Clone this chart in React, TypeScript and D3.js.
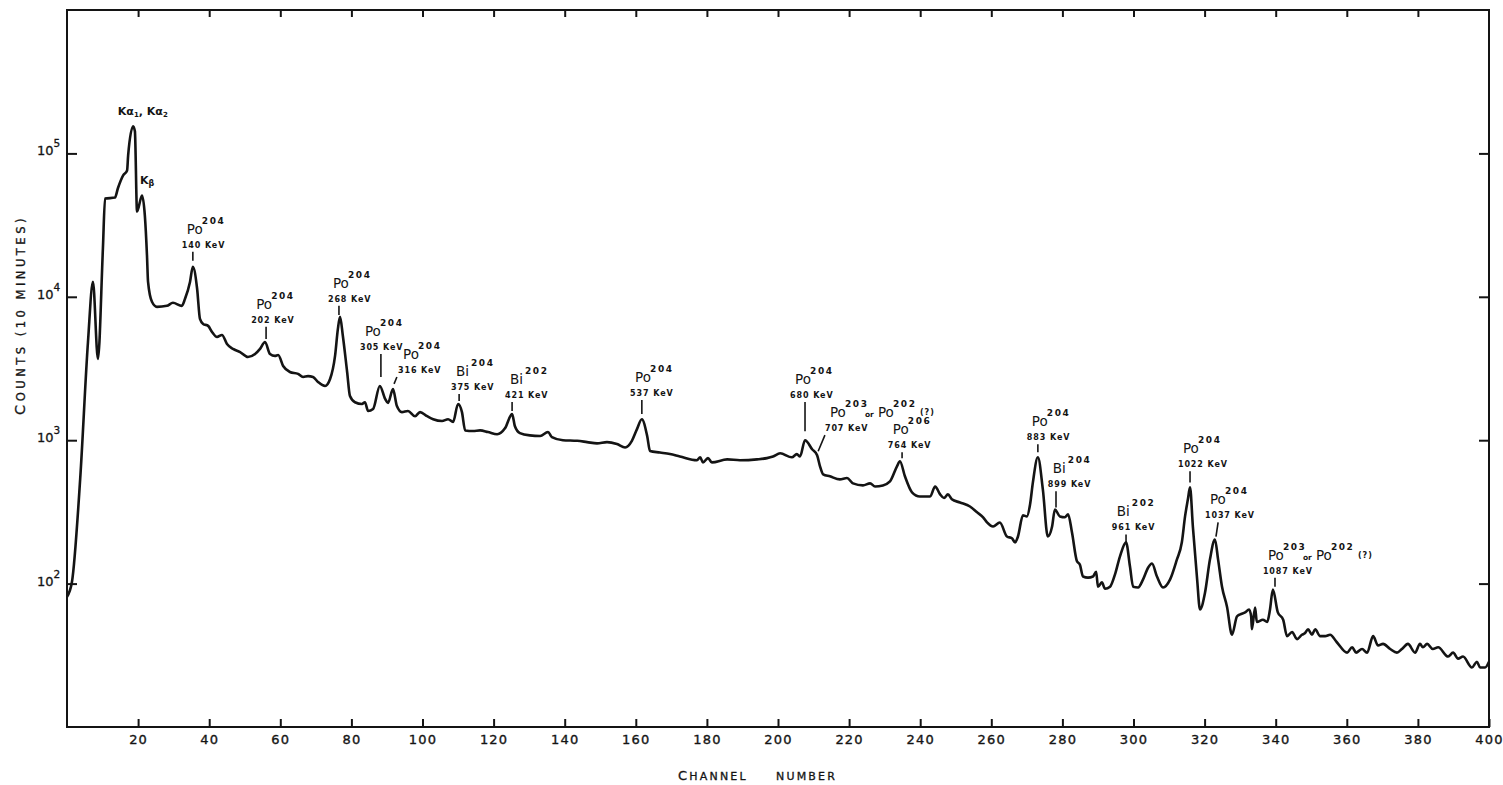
import React, { useRef, useEffect } from 'react';
import * as d3 from 'd3';

// gamma spectrum, [channel, counts per 10 minutes]
const spectrum: [number, number][] = [
  [0, 81], [1.4, 103], [3.7, 533], [5.9, 4840], [7.3, 12700], [8.7, 3680], [10.1, 21700],
  [10.7, 48400], [13.5, 49200], [14.3, 56900], [15.8, 70200], [16.9, 76000], [17.2, 96800],
  [18.6, 154500], [19.1, 142600], [19.7, 39300], [21.1, 50800], [21.9, 36800], [22.5, 19400],
  [22.8, 12700], [23.9, 9230], [25.3, 8510], [28.1, 8650], [29.8, 9080], [32.3, 8650],
  [33.2, 9680], [34.6, 12700], [35.4, 16200], [36.6, 11380], [37.4, 7020], [38.3, 6470],
  [39.7, 6270], [40.8, 5690], [42.2, 5250], [43.6, 5420], [45.0, 4690], [46.7, 4330],
  [48.7, 4120], [50.9, 3800], [52.9, 3990], [54.3, 4330], [55.7, 4840], [57.1, 3990],
  [58.5, 3870], [59.4, 3930], [60.8, 3290], [62.7, 2990], [65.0, 2900], [66.4, 2760],
  [67.8, 2800], [69.2, 2760], [70.6, 2550], [72.6, 2390], [74.0, 2670], [75.4, 3870],
  [76.2, 5970], [76.8, 7250], [77.6, 5330], [78.8, 2990], [79.6, 2030], [81.0, 1840],
  [83.0, 1790], [83.8, 1840], [84.7, 1600], [86.1, 1650], [88.0, 2390], [89.5, 1940],
  [90.3, 1820], [91.7, 2270], [92.8, 1730], [94.2, 1570], [95.9, 1600], [97.9, 1470],
  [99.3, 1570], [101.3, 1470], [103.0, 1400], [105.5, 1360], [107.2, 1400], [108.6, 1340],
  [110.0, 1790], [111.1, 1570], [112.0, 1170], [114.2, 1160], [116.2, 1170], [118.4, 1140],
  [121.0, 1100], [123.2, 1210], [125.2, 1520], [126.0, 1250], [127.4, 1120], [130.2, 1080],
  [133.1, 1070], [135.3, 1140], [136.4, 1050], [139.5, 1000], [143.5, 990], [146.3, 970],
  [149.1, 950], [151.9, 970], [154.7, 940], [157.0, 890], [158.9, 990], [160.3, 1190],
  [161.7, 1400], [163.2, 1070], [164.0, 840], [166.8, 820], [169.6, 800], [172.4, 770],
  [177.2, 725], [178.1, 760], [178.9, 700], [180.3, 750], [181.4, 700], [185.7, 735],
  [189.3, 725], [194.1, 735], [196.9, 750], [198.6, 770], [200.6, 810], [203.9, 760],
  [205.3, 800], [206.2, 770], [207.6, 1000], [209.6, 865], [211.0, 785], [211.8, 660],
  [212.7, 578], [214.6, 560], [217.4, 533], [219.4, 545], [221.1, 500], [223.9, 484],
  [225.9, 500], [227.3, 476], [229.5, 484], [231.5, 516], [233.5, 660], [234.3, 713],
  [235.7, 560], [237.7, 433], [239.9, 405], [242.8, 405], [244.2, 476], [245.6, 419],
  [246.7, 395], [247.8, 419], [248.9, 387], [251.2, 368], [254.0, 345], [256.0, 314],
  [257.7, 290], [258.8, 267], [260.5, 250], [262.4, 267], [264.4, 213], [265.8, 207],
  [266.7, 194], [267.5, 213], [268.9, 299], [270.0, 294], [270.9, 356], [271.7, 508],
  [273.1, 760], [274.5, 454], [275.9, 213], [277.1, 250], [277.9, 329], [279.3, 294],
  [280.7, 290], [281.6, 304], [282.7, 227], [284.1, 143], [284.9, 136], [285.8, 112],
  [287.2, 110], [288.6, 112], [289.5, 121], [290.0, 95], [291.1, 102], [292.0, 92],
  [293.4, 95], [294.8, 116], [296.2, 155], [297.9, 194], [299.0, 132], [299.9, 95],
  [301.3, 94], [302.7, 107], [304.1, 129], [305.2, 138], [306.6, 112], [308.3, 94],
  [310.3, 107], [312.2, 147], [313.6, 194], [314.5, 294], [315.3, 387], [315.9, 469],
  [316.7, 250], [317.9, 107], [318.7, 66], [320.1, 86], [321.5, 147], [322.9, 203],
  [323.8, 147], [324.9, 95], [326.3, 69], [327.7, 44], [329.1, 59], [330.0, 61],
  [331.4, 63], [332.5, 66], [333.1, 59], [333.3, 48], [334.2, 68], [334.7, 54],
  [336.4, 56], [337.6, 54], [338.4, 66], [339.2, 91], [340.6, 63], [342.1, 56],
  [343.2, 43], [344.6, 46], [346.0, 41], [347.4, 44], [348.2, 45], [349.1, 48],
  [350.2, 44], [351.1, 48], [352.5, 43], [353.9, 43], [355.3, 44], [357.2, 39],
  [360.1, 33], [361.5, 36], [362.6, 33], [364.3, 35], [365.7, 33], [367.4, 43],
  [368.8, 37], [370.2, 38], [372.2, 35], [374.1, 33], [375.5, 35], [377.2, 38],
  [379.2, 33], [380.6, 38], [381.4, 36], [382.6, 38], [384.2, 35], [385.7, 36],
  [388.5, 31], [389.9, 33], [391.3, 30], [392.7, 31], [395.2, 26], [396.6, 28.5],
  [397.5, 26], [398.9, 26], [400, 28.5],
];

const xTicks = [20, 40, 60, 80, 100, 120, 140, 160, 180, 200, 220, 240, 260, 280, 300, 320, 340, 360, 380, 400];
const yDecades = [2, 3, 4, 5];

// peak labels: tick from `top` to `bottom` counts at channel `ch`, text starting at `labelCh`
type Note = {
  sym: string; mass: string; energy: string; ch: number; tipCh?: number;
  top: number; bottom: number; labelCh: number; alt?: boolean;
};
const peakNotes: Note[] = [
  { sym: 'Po', mass: '204', energy: '140 KeV', ch: 35.4, top: 20650, bottom: 17860, labelCh: 32.3 },
  { sym: 'Po', mass: '204', energy: '202 KeV', ch: 56.0, top: 6170, bottom: 5080, labelCh: 51.8 },
  { sym: 'Po', mass: '204', energy: '268 KeV', ch: 76.5, top: 8650, bottom: 7480, labelCh: 73.4 },
  { sym: 'Po', mass: '204', energy: '305 KeV', ch: 88.3, top: 3990, bottom: 2760, labelCh: 82.4 },
  { sym: 'Po', mass: '204', energy: '316 KeV', ch: 92.8, tipCh: 92.0, top: 2760, bottom: 2470, labelCh: 93.1 },
  { sym: 'Bi', mass: '204', energy: '375 KeV', ch: 110.3, top: 2100, bottom: 1875, labelCh: 108.0 },
  { sym: 'Bi', mass: '202', energy: '421 KeV', ch: 125.2, top: 1845, bottom: 1595, labelCh: 123.2 },
  { sym: 'Po', mass: '204', energy: '537 KeV', ch: 161.7, top: 1905, bottom: 1520, labelCh: 158.4 },
  { sym: 'Po', mass: '204', energy: '680 KeV', ch: 207.6, top: 1845, bottom: 1156, labelCh: 203.4 },
  { sym: 'Po', mass: '203', energy: '707 KeV', ch: 213.2, tipCh: 211.3, top: 1084, bottom: 838, labelCh: 213.2, alt: true },
  { sym: 'Po', mass: '206', energy: '764 KeV', ch: 234.9, top: 824, bottom: 748, labelCh: 230.9 },
  { sym: 'Po', mass: '204', energy: '883 KeV', ch: 273.1, top: 937, bottom: 824, labelCh: 270.0 },
  { sym: 'Bi', mass: '204', energy: '899 KeV', ch: 278.2, top: 440, bottom: 340, labelCh: 275.9 },
  { sym: 'Bi', mass: '202', energy: '961 KeV', ch: 297.9, top: 220, bottom: 194, labelCh: 293.9 },
  { sym: 'Po', mass: '204', energy: '1022 KeV', ch: 315.9, top: 607, bottom: 508, labelCh: 312.5 },
  { sym: 'Po', mass: '204', energy: '1037 KeV', ch: 323.8, tipCh: 323.2, top: 267, bottom: 213, labelCh: 320.1 },
  { sym: 'Po', mass: '203', energy: '1087 KeV', ch: 339.8, top: 110, bottom: 95, labelCh: 336.4, alt: true },
];

// X-ray labels [channel, counts] of text start
const kAlphaAt: [number, number] = [14.3, 184500];
const kBetaAt: [number, number] = [20.5, 60700];

const WIDTH = 1503;
const HEIGHT = 785;
const FONT = '"DejaVu Sans", sans-serif';
const INK = '#141414';

const App = () => {
  const svgRef = useRef<SVGSVGElement>(null);

  useEffect(() => {
    const svg = d3.select(svgRef.current);
    svg.selectAll('*').remove();

    const margin = { top: 10, right: 14, bottom: 58, left: 67 };
    const x = d3.scaleLinear().domain([0, 400]).range([margin.left, WIDTH - margin.right]);
    const y = d3.scaleLog().domain([10, 1e6]).range([HEIGHT - margin.bottom, margin.top]);
    const [xL, xR] = x.range();
    const [yB, yT] = y.range();

    // frame
    svg.append('rect')
      .attr('x', xL).attr('y', yT)
      .attr('width', xR - xL).attr('height', yB - yT)
      .attr('fill', 'none').attr('stroke', INK).attr('stroke-width', 2);

    const styleAxis = (g: any) => {
      g.select('.domain').remove();
      g.selectAll('.tick line').attr('stroke', INK).attr('stroke-width', 2);
      g.selectAll('.tick text')
        .attr('fill', INK).attr('font-family', FONT)
        .attr('font-size', 13).attr('letter-spacing', 1.2)
        .attr('stroke', INK).attr('stroke-width', 0.35);
    };

    svg.append('g')
      .attr('transform', `translate(0,${yB})`)
      .call(d3.axisBottom(x).tickValues(xTicks).tickSizeInner(-8).tickSizeOuter(0).tickPadding(8))
      .call(styleAxis);

    svg.append('g')
      .attr('transform', `translate(0,${yT})`)
      .call(d3.axisTop(x).tickValues(xTicks.slice(0, -1)).tickSizeInner(-7).tickSizeOuter(0).tickFormat(() => ''))
      .call(styleAxis);

    const decadeVals = yDecades.map(e => Math.pow(10, e));
    svg.append('g')
      .attr('transform', `translate(${xL},0)`)
      .call(d3.axisLeft(y).tickValues(decadeVals).tickSizeInner(-10).tickSizeOuter(0).tickFormat(() => ''))
      .call(styleAxis);

    svg.append('g')
      .attr('transform', `translate(${xR},0)`)
      .call(d3.axisRight(y).tickValues(decadeVals).tickSizeInner(-10).tickSizeOuter(0).tickFormat(() => ''))
      .call(styleAxis);

    // decade labels 10^n
    yDecades.forEach(e => {
      const t = svg.append('text')
        .attr('x', 37).attr('y', y(Math.pow(10, e)) + 2)
        .attr('font-family', FONT).attr('fill', INK)
        .attr('stroke', INK).attr('stroke-width', 0.3);
      t.append('tspan').attr('font-size', 13).text('10');
      t.append('tspan').attr('font-size', 10.5).attr('dy', -8).text(String(e));
    });

    // spectrum
    const line = d3.line<[number, number]>()
      .x(d => x(d[0]))
      .y(d => y(d[1]))
      .curve(d3.curveMonotoneX);

    svg.append('path')
      .datum(spectrum)
      .attr('fill', 'none')
      .attr('stroke', INK)
      .attr('stroke-width', 2.6)
      .attr('stroke-linejoin', 'round')
      .attr('d', line);

    // peak annotations
    const notes = svg.append('g').attr('font-family', FONT).attr('fill', INK);
    const symbol = (sx: number, sb: number, s: string, m: string) => {
      notes.append('text').attr('x', sx).attr('y', sb).attr('font-size', 13.5).text(s);
      notes.append('text')
        .attr('x', sx + 15).attr('y', sb - 10)
        .attr('font-size', 9).attr('font-weight', 'bold').attr('letter-spacing', 1.6)
        .text(m);
    };

    peakNotes.forEach(n => {
      const tx = x(n.ch);
      const bx = n.tipCh != null ? x(n.tipCh) : tx;
      notes.append('line')
        .attr('x1', tx).attr('y1', y(n.top))
        .attr('x2', bx).attr('y2', y(n.bottom))
        .attr('stroke', INK).attr('stroke-width', 1.6);

      const lx = x(n.labelCh);
      const eb = y(n.top) - 4;
      notes.append('text')
        .attr('x', lx).attr('y', eb)
        .attr('font-size', 8).attr('font-weight', 'bold').attr('letter-spacing', 0.9)
        .text(n.energy);

      const px = lx + 5;
      const pb = eb - 14;
      symbol(px, pb, n.sym, n.mass);
      if (n.alt) {
        notes.append('text').attr('x', px + 35).attr('y', pb)
          .attr('font-size', 7.5).attr('font-weight', 'bold').text('or');
        symbol(px + 48, pb, 'Po', '202');
        notes.append('text').attr('x', px + 90).attr('y', pb - 2)
          .attr('font-size', 8).attr('font-weight', 'bold').attr('letter-spacing', 1).text('(?)');
      }
    });

    // K x-ray labels
    const ka = notes.append('text')
      .attr('x', x(kAlphaAt[0])).attr('y', y(kAlphaAt[1]))
      .attr('font-size', 11).attr('font-weight', 'bold');
    ka.append('tspan').text('Kα');
    ka.append('tspan').attr('font-size', 7).attr('dy', 2).text('1');
    ka.append('tspan').attr('dy', -2).text(', Kα');
    ka.append('tspan').attr('font-size', 7).attr('dy', 2).text('2');

    const kb = notes.append('text')
      .attr('x', x(kBetaAt[0])).attr('y', y(kBetaAt[1]))
      .attr('font-size', 11).attr('font-weight', 'bold');
    kb.append('tspan').text('K');
    kb.append('tspan').attr('font-size', 8).attr('dy', 2).text('β');

    // axis titles
    const yt = svg.append('text')
      .attr('transform', `translate(25,315) rotate(-90)`)
      .attr('text-anchor', 'middle')
      .attr('font-family', FONT).attr('fill', INK)
      .attr('stroke', INK).attr('stroke-width', 0.3)
      .attr('letter-spacing', 3.5);
    yt.append('tspan').attr('font-size', 14.5).text('C');
    yt.append('tspan').attr('font-size', 11.5).text('OUNTS (10 MINUTES)');

    const xt = svg.append('text')
      .attr('y', 780)
      .attr('font-family', FONT).attr('fill', INK)
      .attr('stroke', INK).attr('stroke-width', 0.3)
      .attr('letter-spacing', 2.2);
    xt.append('tspan').attr('x', 678).attr('font-size', 13).text('C');
    xt.append('tspan').attr('font-size', 11).text('HANNEL');
    xt.append('tspan').attr('x', 776).attr('font-size', 11).text('NUMBER');
  }, []);

  return (
    <div style={{ position: 'absolute', left: 0, top: 0 }}>
      <svg ref={svgRef} width={WIDTH} height={HEIGHT} style={{ display: 'block', background: '#fff' }} />
    </div>
  );
};

export default App;
